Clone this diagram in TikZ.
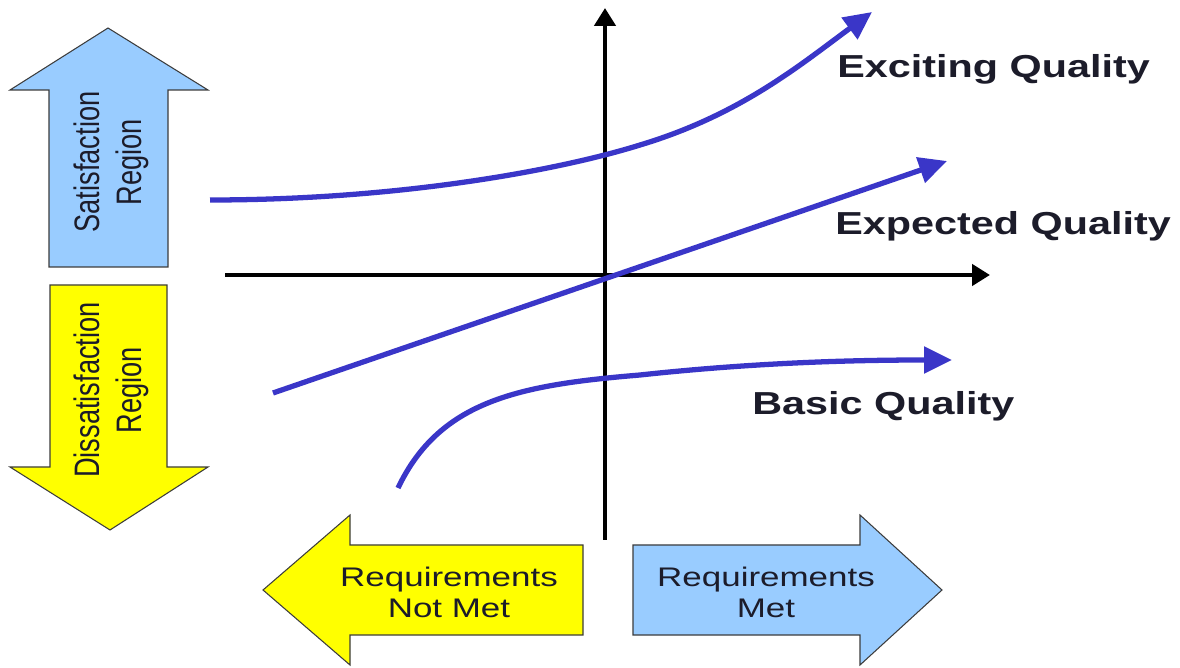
\documentclass[tikz,border=0pt]{standalone}
\usepackage{fontspec}
\setmainfont{Liberation Sans}
\newfontfamily\widesans[FakeStretch=1.3]{Liberation Sans}
\usetikzlibrary{arrows.meta}
\definecolor{Ink}{HTML}{1C1C2A}
\definecolor{Curve}{HTML}{3A36C8}
\definecolor{SkyFill}{HTML}{99CCFF}
\definecolor{Lemon}{HTML}{FFFF00}
\definecolor{Edge}{HTML}{3C3C3C}

\begin{document}
\begin{tikzpicture}[x=0.02cm,y=-0.02cm,
  block/.style={draw=Edge,line width=0.6pt,line join=miter},
  axis/.style={line width=2.8pt,-{Triangle[length=0.36cm,width=0.42cm]}},
  curve/.style={Curve,line width=3pt,-{Triangle[length=0.56cm,width=0.52cm]}},
  lbl/.style={font=\widesans\fontsize{15.3}{17.6}\selectfont,text=Ink,align=center,inner sep=0pt},
  side/.style={font=\fontsize{15.5}{18.7}\selectfont,text=Ink,rotate=90,inner sep=0pt},
  qual/.style={font=\widesans\bfseries\fontsize{18.1}{20}\selectfont,text=Ink,anchor=base west,inner sep=0pt}]
  \useasboundingbox (0,0) rectangle (1180,668);

  % region arrows
  \draw[block,fill=SkyFill] (49,267) -- (49,90) -- (10,90) -- (108,28) -- (208,90) -- (168,90) -- (168,267) -- cycle;
  \draw[block,fill=Lemon] (50,285) -- (167,285) -- (167,467) -- (208,467) -- (110,530) -- (10,467) -- (50,467) -- cycle;
  \node[side] (sat) at (112,162) {\scalebox{1}[1.3]{\begin{tabular}{@{}c@{}}Satisfaction\\Region\end{tabular}}};
  \node[side] (dis) at (112,390) {\scalebox{1}[1.3]{\begin{tabular}{@{}c@{}}Dissatisfaction\\Region\end{tabular}}};

  % requirement arrows
  \draw[block,fill=Lemon] (583,545) -- (350,545) -- (350,515) -- (263,590) -- (350,665) -- (350,635) -- (583,635) -- cycle;
  \draw[block,fill=SkyFill] (633,545) -- (860,545) -- (860,515) -- (942,590) -- (860,665) -- (860,635) -- (633,635) -- cycle;
  \node[lbl] (notmet) at (449,592) {Requirements\\Not Met};
  \node[lbl] (met) at (766,592) {Requirements\\Met};

  % axes
  \coordinate (o) at (605,275);
  \coordinate (xl) at (225,275);
  \coordinate (xr) at (990,275);
  \coordinate (yb) at (605,540);
  \coordinate (yt) at (605,8);
  \draw[axis] (xl) -- (xr);
  \draw[axis] (yb) -- (yt);

  % quality curves
  \coordinate (e0) at (210,200);
  \coordinate (e1) at (872,12);
  \coordinate (x0) at (273,393);
  \coordinate (x1) at (947,161);
  \coordinate (b0) at (398,488);
  \coordinate (b1) at (952,360);
  \draw[curve] (e0) .. controls (400,200) and (560,170) .. (640,145) .. controls (740,115) and (800,65) .. (e1);
  \draw[curve] (x0) -- (x1);
  \draw[curve] (b0) .. controls (440,400) and (520,385) .. (640,375) .. controls (760,362) and (860,360) .. (b1);

  \node[qual] (exc) at (837,78) {Exciting Quality};
  \node[qual] (exp) at (835,235) {Expected Quality};
  \node[qual] (bas) at (752,415) {Basic Quality};
\end{tikzpicture}
\end{document}
